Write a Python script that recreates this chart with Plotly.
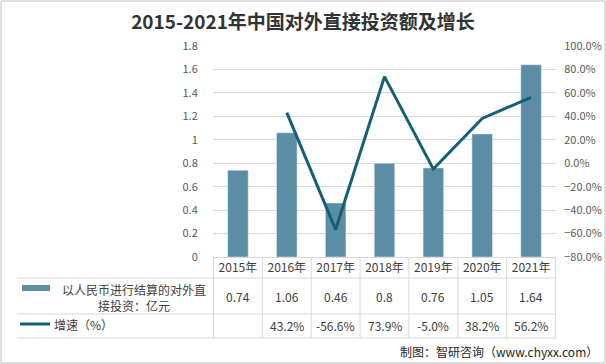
import plotly.graph_objects as go

categories = ["2015年", "2016年", "2017年", "2018年", "2019年", "2020年", "2021年"]
investment = [0.74, 1.06, 0.46, 0.8, 0.76, 1.05, 1.64]
growth_cats = ["2016年", "2017年", "2018年", "2019年", "2020年", "2021年"]
growth = [43.2, -56.6, 73.9, -5.0, 38.2, 56.2]
bar_name = "以人民币进行结算的对外直接投资：亿元"
line_name = "增速（%）"

FONT = "Noto Sans CJK SC, Microsoft YaHei, sans-serif"
BAR_C = "#5b8da5"
LINE_C = "#155e78"
GRID_C = "#d9d9d9"
TXT_C = "#404040"

# pixel helpers (plot area: x 213..556, y 46..257)
L, R, T, B = 213, 556, 46, 257
def px(x):
    return (x - L) / (R - L)
def py(y):
    return (B - y) / (B - T)

fig = go.Figure()
fig.add_trace(go.Bar(x=categories, y=investment, marker_color=BAR_C, name=bar_name,
                     showlegend=False))
fig.add_trace(go.Scatter(x=growth_cats, y=growth, yaxis="y2", mode="lines",
                         line=dict(color=LINE_C, width=3), name=line_name, showlegend=False))

shapes = []
# table horizontal lines
for yy in [278, 314, 338]:
    shapes.append(dict(type="line", xref="paper", yref="paper", x0=px(17), x1=px(R),
                       y0=py(yy), y1=py(yy), line=dict(color=GRID_C, width=1)))
# table vertical lines
for i in range(len(categories) + 1):
    shapes.append(dict(type="line", xref="x", yref="paper", x0=i - 0.5, x1=i - 0.5,
                       y0=py(B), y1=py(338), line=dict(color=GRID_C, width=1)))
# legend swatches
shapes.append(dict(type="rect", xref="paper", yref="paper", x0=px(22), x1=px(50),
                   y0=py(285), y1=py(291), fillcolor=BAR_C, line=dict(width=0)))
shapes.append(dict(type="line", xref="paper", yref="paper", x0=px(20), x1=px(50),
                   y0=py(324), y1=py(324), line=dict(color=LINE_C, width=3)))
# outer frame
shapes.append(dict(type="rect", xref="paper", yref="paper", x0=px(1), x1=px(605),
                   y0=py(1), y1=py(363), line=dict(color="#bfbfbf", width=1)))

def ann(x, y, text, xanchor="center", yanchor="middle", size=12, color=TXT_C, **kw):
    return dict(x=x, y=y, text=text, showarrow=False, xanchor=xanchor, yanchor=yanchor,
                font=dict(size=size, color=color, family=FONT), **kw)

annotations = []
for c, v in zip(categories, investment):
    annotations.append(ann(c, py(296), f"{v:g}", xref="x", yref="paper"))
for c, v in zip(growth_cats, growth):
    annotations.append(ann(c, py(325), f"{v:.1f}%", xref="x", yref="paper"))
annotations.append(ann(px(134), py(297), "以人民币进行结算的对外直<br>接投资：亿元",
                       xref="paper", yref="paper", align="center"))
annotations.append(ann(px(52), py(324), line_name, xanchor="left", xref="paper", yref="paper"))
annotations.append(ann(px(600), py(351), "制图：智研咨询（www.chyxx.com）", xanchor="right",
                       color="#262626", xref="paper", yref="paper"))

fig.update_layout(
    width=606, height=364,
    margin=dict(l=L, r=606 - R, t=T, b=364 - B, autoexpand=False),
    paper_bgcolor="white", plot_bgcolor="white",
    font=dict(family=FONT, color="#595959", size=11),
    title=dict(text="<b>2015-2021年中国对外直接投资额及增长</b>", x=0.5, xanchor="center",
               y=1 - 22 / 364, yanchor="middle", font=dict(size=19, color="#333333", family=FONT)),
    bargap=0.58,
    xaxis=dict(type="category", showline=True, linecolor=GRID_C, ticks="", automargin=False,
               tickfont=dict(size=12, color=TXT_C), showgrid=False),
    yaxis=dict(range=[0, 1.8], dtick=0.2, showgrid=True, gridcolor=GRID_C, zeroline=False,
               automargin=False, ticks="outside", ticklen=12, tickcolor="white",
               tickfont=dict(size=11, color="#595959")),
    yaxis2=dict(range=[-80, 100], dtick=20, overlaying="y", side="right", showgrid=False,
                automargin=False, zeroline=False, tickformat=".1f", ticksuffix="%",
                ticks="outside", ticklen=5, tickcolor="white",
                tickfont=dict(size=11, color="#595959")),
    shapes=shapes, annotations=annotations,
)

fig.write_html("out.html", config={"displayModeBar": False},
               post_script="document.body.style.margin='0';document.body.style.overflow='hidden';")
